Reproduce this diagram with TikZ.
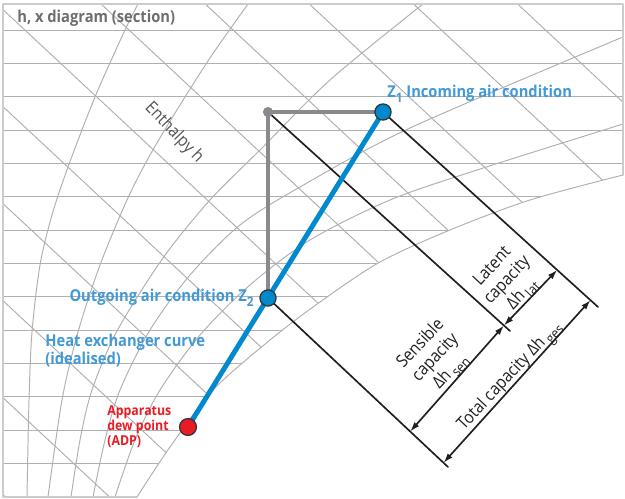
\documentclass[tikz,border=0pt]{standalone}
\usepackage{fontspec}
\setmainfont[FakeStretch=0.9]{Open Sans}
\usetikzlibrary{arrows.meta,calc}

\definecolor{gridgray}{RGB}{176,176,176}
\definecolor{framegray}{RGB}{204,204,204}
\definecolor{linegray}{RGB}{138,138,142}
\definecolor{coilblue}{RGB}{0,137,207}
\definecolor{labelblue}{RGB}{66,153,214}
\definecolor{adpred}{RGB}{232,28,36}
\definecolor{titlegray}{RGB}{112,110,108}

\newcommand\idx[1]{\raisebox{-0.28em}{\scalebox{0.8}{#1}}}

\tikzset{
  gridline/.style={draw=gridgray, line width=0.55pt},
  grayline/.style={draw=linegray, line width=2.2pt},
  capline/.style={draw=black!88, line width=0.95pt},
  coilline/.style={draw=coilblue, line width=2.8pt},
  dimline/.style={draw=black!88, line width=0.95pt, {Latex[length=5.5pt,width=3.6pt]}-{Latex[length=5.5pt,width=3.6pt]}},
  statedot/.style={circle, draw=black!80, line width=0.7pt, fill=coilblue, minimum size=9.2pt, inner sep=0pt},
  adpdot/.style={statedot, fill=adpred, minimum size=9.6pt},
  cornerdot/.style={circle, fill=linegray, minimum size=5.8pt, inner sep=0pt},
  bluelabel/.style={text=labelblue, inner sep=0pt, font=\fontsize{9.3}{8.4}\selectfont\bfseries},
  redlabel/.style={text=adpred, inner sep=0pt, font=\fontsize{7.8}{8.5}\selectfont\bfseries},
  titlelabel/.style={text=titlegray, inner sep=0pt, font=\fontsize{9.3}{11}\selectfont\bfseries},
  gridlabel/.style={text=black!68, inner sep=0pt, font=\fontsize{9.8}{11}\selectfont},
  dimlabel/.style={text=black!88, inner sep=0pt, rotate=47, align=center, font=\fontsize{9.8}{11.6}\selectfont}
}

\begin{document}
\begin{tikzpicture}[x=0.02cm, y=-0.02cm, line join=round, line cap=round]
\useasboundingbox (0,0) rectangle (625,499);

% grid of the h,x diagram
\begin{scope}
  \clip (3,4) -- (623,4) -- plot[smooth] coordinates {(623,175) (530,200) (450,230) (380,262) (320,302) (270,340) (213,390) (170,447) (137,497)} -- (3,497) -- cycle;
  \foreach \k in {0,...,13}
    \draw[gridline] (3,{30+33.36*\k}) -- (623,{30+33.36*\k});
  \foreach \m in {-6,...,5}{
    \pgfmathsetmacro\hv{5+71*\m}
    \draw[gridline] ({-0.682*\hv-660},{0.731*\hv-615}) -- ({-0.682*\hv+660},{0.731*\hv+615});
  }
  \draw[gridline] plot[smooth] coordinates {(115,497) (135,440) (160,390) (200,335) (250,285) (310,240) (390,200) (477,170) (623,124)};
  \draw[gridline] plot[smooth] coordinates {(93,497) (105,440) (120,390) (150,330) (190,275) (240,225) (300,187) (410,128) (623,37)};
  \draw[gridline] plot[smooth] coordinates {(71,497) (80,440) (92,390) (117,331) (163,258) (210,200) (260,150) (330,80) (423,4)};
  \draw[gridline] plot[smooth] coordinates {(48,497) (62,400) (78,332) (100,265) (127,200) (150,155) (180,105) (212,55) (248,4)};
  \draw[gridline] plot[smooth] coordinates {(27,497) (29,400) (32,332) (40,265) (52,215) (68,167) (95,97) (125,30) (138,4)};
\end{scope}
\draw[framegray, line width=1.1pt] (137,497) -- (3,497) -- (3,4) -- (623,4) -- (623,175);
\draw[gridline] plot[smooth] coordinates {(623,175) (530,200) (450,230) (380,262) (320,302) (270,340) (213,390) (170,447) (137,497)};

\node[titlelabel, anchor=base west] (title) at (17,23) {h, x diagram (section)};
\node[gridlabel, rotate=-46] (hlab) at (174,133) {Enthalpy h};

% air conditions
\coordinate (g) at (268,112);
\coordinate (z1) at (383,112);
\coordinate (z2) at (268,298);
\coordinate (adp) at (188,427);
\coordinate (e1) at (598,307);
\coordinate (e2) at (510,331);
\coordinate (e3) at (448,467);

\draw[grayline] (z1) -- (g) -- (z2);
\draw[capline] (z1) -- (e1);
\draw[capline] (g) -- (e2);
\draw[capline] (z2) -- (e3);

\coordinate (t1) at ($(z1)!0.965!(e1)$);
\coordinate (t3) at ($(z2)!0.975!(e3)$);
\coordinate (l1) at ($(z1)!0.81!(e1)$);
\coordinate (m2) at ($(g)!0.975!(e2)$);
\coordinate (s3) at ($(z2)!0.79!(e3)$);
\draw[dimline] (t1) -- (t3);
\draw[dimline] (l1) -- (m2);
\draw[dimline] (m2) -- (s3);

\draw[coilline] (adp) -- (z1);
\node[cornerdot] (G) at (g) {};
\node[statedot] (Z1) at (z1) {};
\node[statedot] (Z2) at (z2) {};
\node[adpdot] (ADP) at (adp) {};

\node[bluelabel, anchor=base west] (inlab) at (387,98) {Z\idx{1} Incoming air condition};
\node[bluelabel, anchor=base east] (outlab) at (254,302) {Outgoing air condition Z\idx{2}};
\node[bluelabel, align=left, anchor=north west] (hxlab) at (45,334) {Heat exchanger curve\\(idealised)};
\node[redlabel, align=left, anchor=north west] (adplab) at (107,405) {Apparatus\\dew point\\(ADP)};

\node[dimlabel] (latlab) at (508,281) {Latent\\capacity\\Δh\,\idx{lat}};
\node[dimlabel] (senlab) at (436,358) {Sensible\\capacity\\Δh\,\idx{sen}};
\node[dimlabel] (totlab) at (511,377) {Total capacity Δh\,\idx{ges}};
\end{tikzpicture}
\end{document}
